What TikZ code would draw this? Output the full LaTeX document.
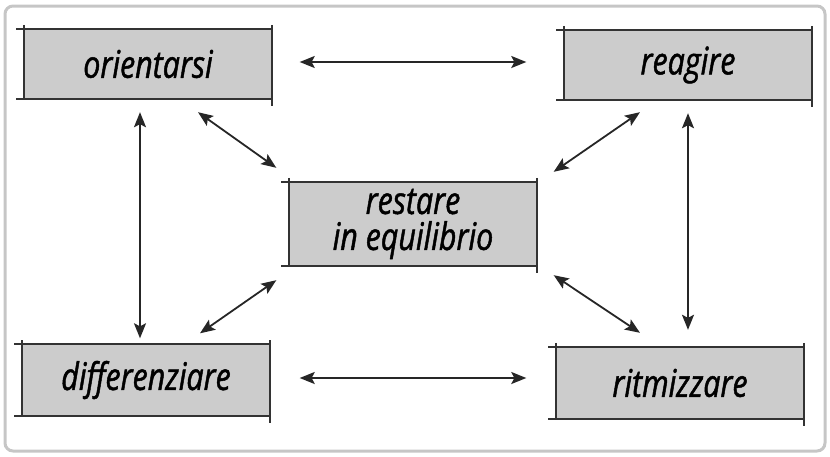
\documentclass[tikz,border=0pt]{standalone}
\usepackage{fontspec}
\setmainfont{Open Sans}[FakeStretch=0.8,FakeBold=1.2]
\usepackage{tikz}
\usetikzlibrary{arrows.meta,calc,positioning}

\tikzset{
  conceptbox/.style={fill=gray!40, inner sep=0pt, minimum width=247, minimum height=70,
    align=center, font=\itshape\fontsize{38}{36}\selectfont},
  boxline/.style={line width=2.2pt, draw=black!80},
  link/.style={{Stealth[length=15pt,width=12pt,inset=3pt]}-{Stealth[length=15pt,width=12pt,inset=3pt]},
    line width=1.8pt, draw=black!85}
}

% sketched outline round a box: lines run past the corners
\newcommand{\handbox}[1]{%
  \draw[boxline] ([xshift=-8]#1.north west) -- ([xshift=1]#1.north east);
  \draw[boxline] ([xshift=-8]#1.south west) -- (#1.south east);
  \draw[boxline] ([yshift=4]#1.north west) -- (#1.south west);
  \draw[boxline] ([yshift=4]#1.north east) -- ([yshift=-7]#1.south east);
}

\begin{document}
\begin{tikzpicture}[x=1pt,y=-1pt]

    % --- frame ---
    \useasboundingbox (0,0) rectangle (830,456);
    \draw[line width=3pt, draw=gray!45, rounded corners=8pt] (5,6) rectangle (825,451);

    % ======================================================
    % boxes
    % ======================================================
    \node[conceptbox] (orient) at (148,64) {orientarsi};
    \node[conceptbox] (react) at (688,65) {reagire};
    \node[conceptbox, minimum height=84] (balance) at (413,224) {restare\\in equilibrio};
    \node[conceptbox, minimum height=71] (diff) at (146,380) {differenziare};
    \node[conceptbox, minimum height=72] (rhythm) at (680,383) {ritmizzare};

    \handbox{orient}
    \handbox{react}
    \handbox{balance}
    \handbox{diff}
    \handbox{rhythm}

    % ======================================================
    % arrows
    % ======================================================
    % horizontal
    \draw[link] ([xshift=28,yshift=2]orient.east) -- ([xshift=-38,yshift=3]react.west);
    \draw[link] ([xshift=30,yshift=2]diff.east) -- ([xshift=-30,yshift=5]rhythm.west);

    % vertical
    \draw[link] ([xshift=-8,yshift=-13]orient.south) -- ([xshift=-6,yshift=6]diff.north);
    \draw[link] ([yshift=-13]react.south) -- ([xshift=8,yshift=17]rhythm.north);

    % diagonal, towards the middle
    \draw[link] ([xshift=50,yshift=-13]orient.south) -- ([xshift=-13,yshift=14]balance.north west);
    \draw[link] ([xshift=-48,yshift=-12]react.south) -- ([xshift=17,yshift=10]balance.north east);
    \draw[link] ([xshift=-13,yshift=-14]balance.south west) -- ([xshift=54,yshift=11]diff.north);
    \draw[link] ([xshift=17,yshift=-9]balance.south east) -- ([xshift=-40,yshift=14]rhythm.north);

\end{tikzpicture}
\end{document}
